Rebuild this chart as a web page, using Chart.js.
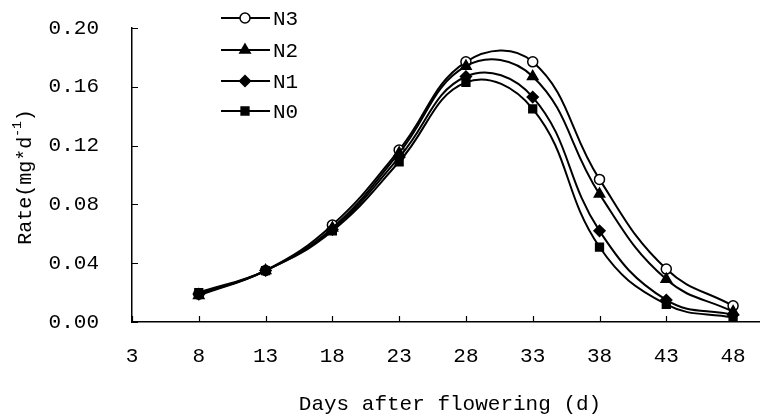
<!DOCTYPE html>
<html>
<head>
<meta charset="utf-8">
<script src="https://cdn.jsdelivr.net/npm/chart.js@4.4.0/dist/chart.umd.min.js"></script>
<style>
  html, body { margin: 0; padding: 0; background: #fff; }
</style>
</head>
<body>
<canvas id="chart" width="768" height="420"></canvas>
<script>
const days = [8, 13, 18, 23, 28, 33, 38, 43, 48];
const n3 = [0.019, 0.035, 0.066, 0.117, 0.177, 0.177, 0.097, 0.036, 0.011];
const n2 = [0.018, 0.035, 0.064, 0.115, 0.174, 0.167, 0.087, 0.029, 0.007];
const n1 = [0.019, 0.035, 0.063, 0.112, 0.167, 0.153, 0.062, 0.015, 0.005];
const n0 = [0.020, 0.035, 0.062, 0.109, 0.163, 0.145, 0.051, 0.012, 0.003];
const xTicks = [3, 8, 13, 18, 23, 28, 33, 38, 43, 48];
const yTicks = [0, 0.04, 0.08, 0.12, 0.16, 0.20];

const FONT = 'Liberation Mono';
const pts = vals => days.map((d, i) => ({ x: d, y: vals[i] }));

function series(label, vals, style, radius, fill, order) {
    return {
        label: label,
        data: pts(vals),
        borderColor: '#000',
        borderWidth: 2,
        tension: 0.42,
        pointStyle: style,
        pointRadius: radius,
        pointBackgroundColor: fill,
        pointBorderColor: '#000',
        pointBorderWidth: 1.5,
        order: order
    };
}

// inner ticks, axis titles and the line+marker legend
const extras = {
    id: 'extras',
    afterDraw(c) {
        const ctx = c.ctx;
        const xs = c.scales.x, ys = c.scales.y;
        const area = c.chartArea;
        ctx.save();
        ctx.strokeStyle = '#000';
        ctx.lineWidth = 1.2;
        ctx.beginPath();
        xTicks.forEach(v => {
            const px = Math.round(xs.getPixelForValue(v)) + 0.5;
            ctx.moveTo(px, area.bottom);
            ctx.lineTo(px, area.bottom - 6);
        });
        yTicks.forEach(v => {
            const py = Math.round(ys.getPixelForValue(v)) + 0.5;
            ctx.moveTo(area.left, py);
            ctx.lineTo(area.left + 6, py);
        });
        ctx.stroke();

        ctx.fillStyle = '#000';
        // x title
        ctx.font = '21px "' + FONT + '"';
        ctx.textAlign = 'center';
        ctx.textBaseline = 'middle';
        ctx.fillText('Days after flowering (d)', 450, 404);

        // y title with superscript
        const main = 'Rate(mg*d', sup = '-1', tail = ')';
        ctx.font = '20px "' + FONT + '"';
        const w1 = ctx.measureText(main).width, w3 = ctx.measureText(tail).width;
        ctx.font = '13px "' + FONT + '"';
        const w2 = ctx.measureText(sup).width;
        const total = w1 + w2 + w3;
        ctx.translate(26, 177);
        ctx.rotate(-Math.PI / 2);
        ctx.textAlign = 'left';
        let x0 = -total / 2;
        ctx.font = '20px "' + FONT + '"';
        ctx.fillText(main, x0, 0);
        ctx.font = '13px "' + FONT + '"';
        ctx.fillText(sup, x0 + w1, -8);
        ctx.font = '20px "' + FONT + '"';
        ctx.fillText(tail, x0 + w1 + w2, 0);
        ctx.setTransform(1, 0, 0, 1, 0, 0);
        ctx.restore();

        // legend
        ctx.save();
        const legendY = [18, 50, 81, 111];
        c.data.datasets.forEach((ds, i) => {
            const y = legendY[i];
            ctx.strokeStyle = '#000';
            ctx.lineWidth = 2;
            ctx.beginPath();
            ctx.moveTo(221, y);
            ctx.lineTo(270, y);
            ctx.stroke();
            ctx.fillStyle = ds.pointBackgroundColor;
            ctx.strokeStyle = '#000';
            ctx.lineWidth = ds.pointBorderWidth;
            Chart.helpers.drawPoint(ctx, {
                pointStyle: ds.pointStyle,
                radius: ds.pointRadius,
                rotation: 0,
                borderWidth: ds.pointBorderWidth
            }, 245, y);
            ctx.fillStyle = '#000';
            ctx.font = '21px "' + FONT + '"';
            ctx.textAlign = 'left';
            ctx.textBaseline = 'middle';
            ctx.fillText(ds.label, 273, y + 1);
        });
        ctx.restore();
    }
};

new Chart(document.getElementById('chart'), {
    type: 'line',
    data: {
        datasets: [
            series('N3', n3, 'circle', 5, '#fff', 3),
            series('N2', n2, 'triangle', 6, '#000', 2),
            series('N1', n1, 'rectRot', 5.5, '#000', 1),
            series('N0', n0, 'rect', 5.5, '#000', 0)
        ]
    },
    options: {
        responsive: false,
        animation: false,
        devicePixelRatio: 1,
        layout: { padding: { left: 0, top: 28, right: 3, bottom: 0 } },
        plugins: { legend: { display: false }, tooltip: { enabled: false } },
        scales: {
            x: {
                type: 'linear',
                min: 3,
                max: 50,
                afterBuildTicks: s => { s.ticks = xTicks.map(v => ({ value: v })); },
                afterFit: s => { s.height = 98; },
                grid: { display: false, drawTicks: false },
                border: { display: true, color: '#000', width: 1.5 },
                ticks: { color: '#000', padding: 22, maxRotation: 0, font: { family: FONT, size: 21 } }
            },
            y: {
                min: 0,
                max: 0.2,
                afterBuildTicks: s => { s.ticks = yTicks.map(v => ({ value: v })); },
                afterFit: s => { s.width = 132; s.paddingTop = 10; s.paddingBottom = 10; },
                grid: { display: false, drawTicks: false },
                border: { display: true, color: '#000', width: 1.5 },
                ticks: {
                    color: '#000',
                    padding: 33,
                    font: { family: FONT, size: 21 },
                    callback: v => v.toFixed(2)
                }
            }
        }
    },
    plugins: [extras]
});
</script>
</body>
</html>
